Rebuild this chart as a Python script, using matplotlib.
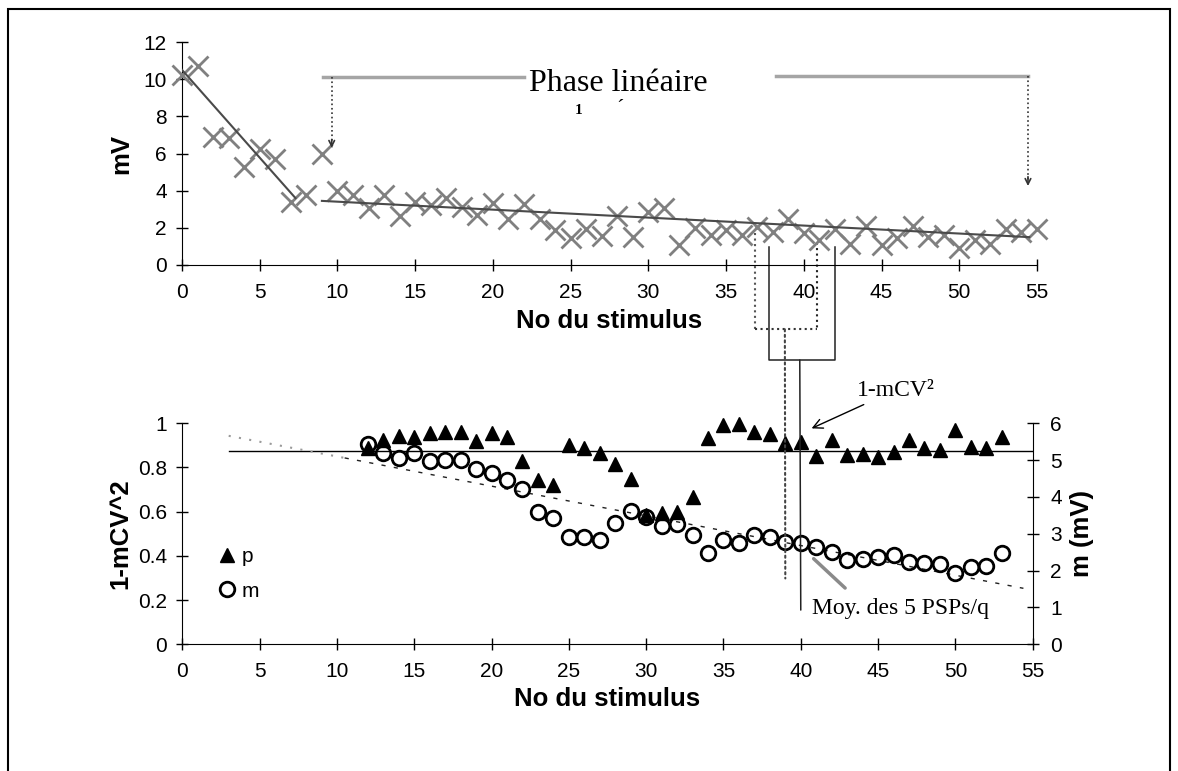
import matplotlib
matplotlib.use("Agg")
import matplotlib.pyplot as plt
from matplotlib.patches import ConnectionPatch, Rectangle
from matplotlib.lines import Line2D
import numpy as np

# ---- donnees ----
# graphe du haut : amplitude (mV) par stimulus
stim_haut = np.arange(0, 56)
amplitude_mv = [10.2, 10.7, 6.9, 6.85, 5.3, 6.25, 5.7, 3.4, 3.75, 6.0,
                4.0, 3.75, 3.05, 3.75, 2.65, 3.4, 3.25, 3.6, 3.1, 2.7,
                3.35, 2.5, 3.3, 2.45, 1.9, 1.45, 1.95, 1.55, 2.65, 1.5,
                2.85, 3.05, 1.05, 2.0, 1.6, 1.9, 1.6, 2.05, 1.8, 2.45,
                1.7, 1.35, 1.95, 1.15, 2.1, 1.1, 1.45, 2.1, 1.5, 1.6,
                0.9, 1.35, 1.15, 1.95, 1.8, 1.95]

# droites de tendance (extremites)
pente_rapide_x = [0, 7.3]
pente_rapide_y = [10.5, 3.6]
pente_lineaire_x = [9, 54.5]
pente_lineaire_y = [3.45, 1.5]

# graphe du bas : p (1-mCV^2) et m (mV)
stim_bas = np.arange(12, 54)
p_values = [0.887, 0.924, 0.943, 0.937, 0.958, 0.962, 0.962, 0.921, 0.955, 0.937,
            0.829, 0.743, 0.721, 0.903, 0.887, 0.864, 0.816, 0.748, 0.585, 0.593,
            0.600, 0.668, 0.932, 0.992, 0.997, 0.962, 0.952, 0.909, 0.917, 0.852,
            0.924, 0.857, 0.861, 0.846, 0.872, 0.924, 0.887, 0.879, 0.970, 0.894,
            0.887, 0.937]
m_values = [5.44, 5.19, 5.05, 5.20, 4.99, 5.0, 5.0, 4.75, 4.66, 4.46,
            4.21, 3.60, 3.42, 2.92, 2.92, 2.83, 3.28, 3.63, 3.46, 3.22,
            3.27, 2.97, 2.49, 2.83, 2.74, 2.97, 2.92, 2.79, 2.76, 2.63,
            2.51, 2.29, 2.31, 2.38, 2.42, 2.24, 2.22, 2.18, 1.93, 2.09,
            2.13, 2.47]

p_moy_x = [3, 55]
p_moy_y = [0.875, 0.875]
m_tend_x = [3, 10.5, 54.4]
m_tend_y = [5.66, 5.06, 1.52]

x_ticks = list(range(0, 56, 5))
mv_ticks = list(range(0, 13, 2))
p_ticks = [0, 0.2, 0.4, 0.6, 0.8, 1]
p_labels = ['0', '0.2', '0.4', '0.6', '0.8', '1']
m_ticks = list(range(0, 7))

plt.rcParams['font.family'] = ['Liberation Sans', 'DejaVu Sans']
serif = ['Liberation Serif', 'DejaVu Serif']

W, H = 1178, 771
fig = plt.figure(figsize=(W / 100, H / 100), dpi=100)
ax1 = fig.add_axes([182 / W, 1 - 265 / H, 855 / W, 223 / H])
ax2 = fig.add_axes([182.3 / W, 1 - 644.3 / H, 850.4 / W, 221 / H])
ax3 = ax2.twinx()

tick_style = dict(direction='inout', length=9, width=1, labelsize=15, colors='black')

# ---- graphe du haut ----
ax1.plot(stim_haut, amplitude_mv, linestyle='none', marker='x', markersize=14,
         mew=2, color='#808080', clip_on=False, zorder=3)
ax1.plot(pente_rapide_x, pente_rapide_y, color='#4a4a4a', lw=1.5, zorder=4)
ax1.plot(pente_lineaire_x, pente_lineaire_y, color='#4a4a4a', lw=1.5, zorder=4)
ax1.set_xlim(0, 55)
ax1.set_ylim(0, 12)
ax1.set_xticks(x_ticks)
ax1.set_yticks(mv_ticks)
ax1.tick_params(axis='x', pad=8.5, **tick_style)
ax1.tick_params(axis='y', pad=6.5, **tick_style)
ax1.spines['top'].set_visible(False)
ax1.spines['right'].set_visible(False)
ax1.set_xlabel('No du stimulus', fontsize=18.5, fontweight='bold', labelpad=5)
ax1.set_ylabel('mV', fontsize=18.5, fontweight='bold', labelpad=7)

# fleches "Phase lineaire"
ax1.plot([9.1, 22.0], [10.13, 10.13], color='#a5a5a5', lw=2.5, clip_on=False)
ax1.plot([9.63, 9.63], [10.13, 6.3], color='#333333', lw=1.2, linestyle=':')
ax1.annotate('', xy=(9.63, 6.15), xytext=(9.63, 6.9),
             arrowprops=dict(arrowstyle='->', color='#333333', lw=1.2))
ax1.plot([38.2, 54.42], [10.15, 10.15], color='#a5a5a5', lw=2.5, clip_on=False)
ax1.plot([54.42, 54.42], [10.15, 4.3], color='#333333', lw=1.2, linestyle=':')
ax1.annotate('', xy=(54.42, 4.1), xytext=(54.42, 4.9),
             arrowprops=dict(arrowstyle='->', color='#333333', lw=1.2))
ax1.text(28.05, 9.75, 'Phase linéaire', ha='center', va='center',
         family=serif, fontsize=23)
ax1.text(25.5, 8.3, '1', ha='center', va='center', family=serif, fontsize=11,
         fontweight='bold')
ax1.text(28.2, 8.35, '´', ha='center', va='center', family=serif, fontsize=16)

# crochets de selection sous l'axe du haut
ax1.plot([36.85, 36.85], [1.7, -3.46], color='#555555', lw=1.5, linestyle=':', clip_on=False)
ax1.plot([40.85, 40.85], [1.5, -3.46], color='#222222', lw=1.5, linestyle=':', clip_on=False)
ax1.plot([36.85, 40.85], [-3.46, -3.46], color='#333333', lw=1.5, linestyle=':', clip_on=False)
ax1.plot([37.75, 37.75, 42.0, 42.0], [0.95, -5.11, -5.11, 0.95], color='#222222',
         lw=1.1, clip_on=False)

# ---- graphe du bas ----
ax2.plot(stim_bas, p_values, linestyle='none', marker='^', markersize=10,
         color='black', clip_on=False, zorder=3)
ax2.plot(p_moy_x, p_moy_y, color='black', lw=1)
ax3.plot(stim_bas, m_values, linestyle='none', marker='o', markersize=10.5,
         mfc='none', mec='black', mew=2, clip_on=False, zorder=3)
ax3.plot(m_tend_x[:2], m_tend_y[:2], color='#9a9a9a', lw=1.5, linestyle=(0, (1, 4)))
ax3.plot(m_tend_x[1:], m_tend_y[1:], color='#222222', lw=1, linestyle=(0, (3, 6)))

ax2.set_xlim(0, 55)
ax2.set_ylim(0, 1)
ax3.set_ylim(0, 6)
ax2.set_xticks(x_ticks)
ax2.set_yticks(p_ticks)
ax2.set_yticklabels(p_labels)
ax3.set_yticks(m_ticks)
ax2.tick_params(axis='x', pad=8.5, **tick_style)
ax2.tick_params(axis='y', pad=6.5, **tick_style)
ax3.tick_params(axis='y', pad=8, **tick_style)
for a in (ax2, ax3):
    a.spines['top'].set_visible(False)
ax2.spines['right'].set_visible(False)
ax3.spines['left'].set_visible(False)
ax3.spines['bottom'].set_visible(False)
ax2.set_xlabel('No du stimulus', fontsize=18.5, fontweight='bold', labelpad=4)
ax2.set_ylabel('1-mCV^2', fontsize=18.5, fontweight='bold', labelpad=4)
ax3.set_ylabel('m (mV)', fontsize=18.5, fontweight='bold', labelpad=6)

# legende
h_p = Line2D([], [], linestyle='none', marker='^', markersize=10, color='black')
h_m = Line2D([], [], linestyle='none', marker='o', markersize=10.5, mfc='none',
             mec='black', mew=2)
ax2.legend([h_p, h_m], ['p', 'm'], loc='upper left', bbox_to_anchor=(0.043, 0.44),
           frameon=False, fontsize=15, handlelength=0.8, handletextpad=0.3,
           labelspacing=0.75, borderaxespad=0, borderpad=0, numpoints=1)

# annotations
ax2.annotate('1-mCV²', xy=(40.7, 0.977), xytext=(43.6, 1.15), ha='left', va='center',
             family=serif, fontsize=17, annotation_clip=False,
             arrowprops=dict(arrowstyle='->', color='black', lw=1,
                             shrinkA=2, shrinkB=0))
ax2.annotate('', xy=(40.7, 0.396), xytext=(43.0, 0.246), annotation_clip=False,
             arrowprops=dict(arrowstyle='-', color='#8a8a8a', lw=2.5))
ax2.text(40.7, 0.164, 'Moy. des 5 PSPs/q', ha='left', va='center', family=serif,
         fontsize=17)

# liens entre les deux graphes
lien_pointille = ConnectionPatch(xyA=(38.78, -3.46), coordsA=ax1.transData,
                                 xyB=(39.0, 0.298), coordsB=ax2.transData,
                                 color='#444444', lw=1.5, linestyle=':')
fig.add_artist(lien_pointille)
lien_plein = ConnectionPatch(xyA=(39.74, -5.11), coordsA=ax1.transData,
                             xyB=(40.0, 0.155), coordsB=ax2.transData,
                             color='#222222', lw=1.1)
fig.add_artist(lien_plein)

# cadre
fig.add_artist(Rectangle((8 / W, -0.05), (1170 - 8) / W, 1.05 - 9 / H, fill=False,
                         edgecolor='black', lw=1.5, transform=fig.transFigure))

fig.savefig('out.png', dpi=100)
